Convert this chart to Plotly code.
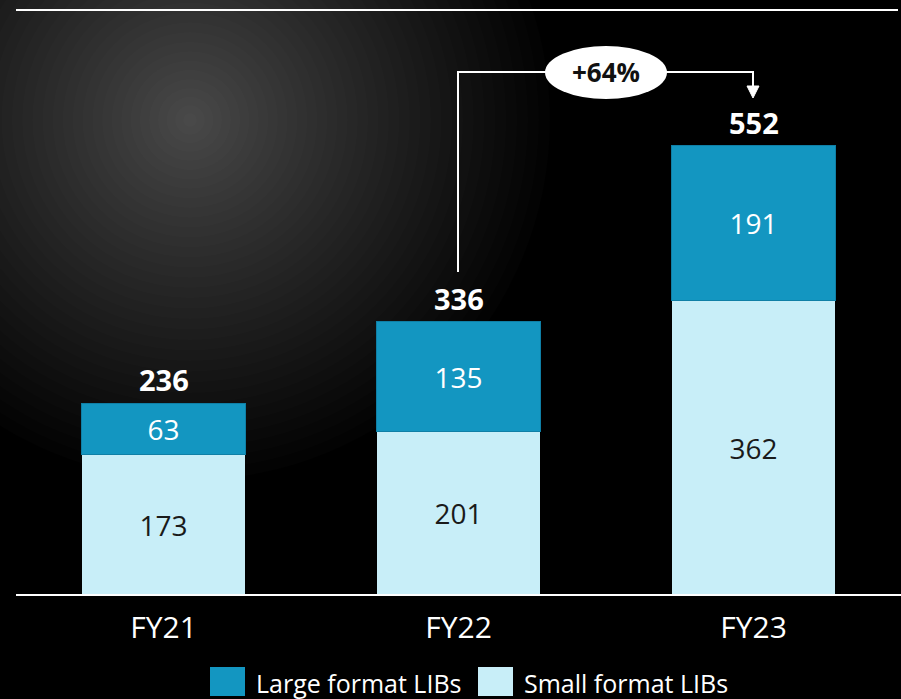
import plotly.graph_objects as go

W, H = 901, 699

years = ["FY21", "FY22", "FY23"]
small_format = [173, 201, 362]
large_format = [63, 135, 191]
totals = [236, 336, 552]
growth_label = "+64%"

LARGE = "#1396C1"
SMALL = "#C8EEF8"
FONT = "Open Sans, Noto Sans, sans-serif"


def px(x):
    return x / W


def py(y):
    return 1 - y / H


fig = go.Figure()
fig.add_trace(go.Bar(
    x=years, y=small_format, name="Small format LIBs",
    marker=dict(color=SMALL, line=dict(width=0)),
    text=small_format, textposition="inside", insidetextanchor="middle",
    textfont=dict(color="#1a1a1a", size=28, family=FONT), textangle=0,
    showlegend=False,
))
fig.add_trace(go.Bar(
    x=years, y=large_format, name="Large format LIBs",
    marker=dict(color=LARGE, line=dict(color="#0f7fa6", width=1)),
    text=large_format, textposition="inside", insidetextanchor="middle",
    textfont=dict(color="white", size=28, family=FONT), textangle=0,
    showlegend=False,
))

# totals above the stacks
for yr, t in zip(years, totals):
    fig.add_annotation(x=yr, y=t, text=f"<b>{t}</b>", showarrow=False,
                       yanchor="bottom", yshift=2,
                       font=dict(color="white", size=29, family=FONT))

shapes = []

# soft spotlight in the top-left corner (stacked translucent discs)
cx, cy, R, n = 190, 120, 360, 36
for i in range(n, 0, -1):
    r = R * (i / n) ** 1.1
    shapes.append(dict(type="circle", xref="paper", yref="paper",
                       x0=px(cx - r), x1=px(cx + r), y0=py(cy + r), y1=py(cy - r),
                       fillcolor="rgba(255,255,255,0.01)", line=dict(width=0),
                       layer="below"))

# top rule and baseline
shapes.append(dict(type="line", xref="paper", yref="paper",
                   x0=px(16), x1=px(898), y0=py(10), y1=py(10),
                   line=dict(color="white", width=2)))
shapes.append(dict(type="line", xref="paper", yref="paper",
                   x0=px(16), x1=1, y0=py(595), y1=py(595),
                   line=dict(color="white", width=2)))

# growth bracket FY22 -> FY23
path = f"M {px(458)},{py(272)} L {px(458)},{py(72)} L {px(753)},{py(72)} L {px(753)},{py(88)}"
shapes.append(dict(type="path", xref="paper", yref="paper", path=path,
                   line=dict(color="white", width=2)))
tri = f"M {px(747)},{py(86)} L {px(759)},{py(86)} L {px(753)},{py(98)} Z"
shapes.append(dict(type="path", xref="paper", yref="paper", path=tri,
                   fillcolor="white", line=dict(color="white", width=1)))
shapes.append(dict(type="circle", xref="paper", yref="paper",
                   x0=px(545), x1=px(667), y0=py(99), y1=py(46),
                   fillcolor="white", line=dict(width=0)))
fig.add_annotation(xref="paper", yref="paper", x=px(606), y=py(72),
                   text=f"<b>{growth_label}</b>", showarrow=False,
                   xanchor="center", yanchor="middle",
                   font=dict(color="#111111", size=26, family=FONT))

# legend drawn by hand so the swatches are big
legend_items = [("Large format LIBs", LARGE, 210), ("Small format LIBs", SMALL, 478)]
for label, col, x0 in legend_items:
    shapes.append(dict(type="rect", xref="paper", yref="paper",
                       x0=px(x0), x1=px(x0 + 35), y0=py(696), y1=py(667),
                       fillcolor=col, line=dict(width=0)))
    fig.add_annotation(xref="paper", yref="paper", x=px(x0 + 44), y=py(683),
                       text=label, showarrow=False, xanchor="left", yanchor="middle",
                       font=dict(color="white", size=25, family=FONT))

fig.update_layout(
    width=W, height=H,
    margin=dict(l=0, r=0, t=0, b=0),
    paper_bgcolor="black", plot_bgcolor="rgba(0,0,0,0)",
    barmode="stack", bargap=0.447,
    shapes=shapes,
    font=dict(family=FONT, color="white"),
)
fig.update_xaxes(domain=[px(16), 1], range=[-0.5, 2.5], showgrid=False,
                 showline=False, zeroline=False, ticks="outside", ticklen=6,
                 tickcolor="rgba(0,0,0,0)",
                 tickfont=dict(size=30, color="white", family=FONT))
fig.update_yaxes(domain=[py(595), 1], range=[0, 731.5], visible=False)

fig.write_html("out.html", config={"displayModeBar": False},
               post_script="document.body.style.margin='0';")
